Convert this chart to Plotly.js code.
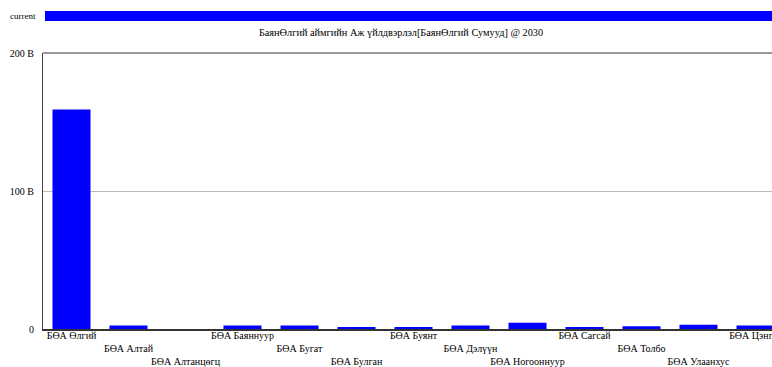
<!DOCTYPE html>
<html>
<head>
<meta charset="utf-8">
<script src="https://cdn.plot.ly/plotly-3.0.1.min.js"></script>
<style>
html,body{margin:0;padding:0;overflow:hidden;background:#fff;}
#chart{width:800px;height:367px;}
</style>
</head>
<body>
<div id="chart"></div>
<script>
const categories = ["БӨА Өлгий","БӨА Алтай","БӨА Алтанцөгц","БӨА Баяннуур","БӨА Бугат","БӨА Булган","БӨА Буянт","БӨА Дэлүүн","БӨА Ногооннуур","БӨА Сагсай","БӨА Толбо","БӨА Улаанхус","БӨА Цэнгэл"];
const valuesB = [159, 2.5, 0, 2.5, 2.5, 1.5, 1.5, 2.5, 4.5, 1.5, 2, 3, 2.5];
const yTickVals = [0, 100, 200];
const yTickText = ["0", "100 B", "200 B"];
const seriesName = "current";
const titleText = "БаянӨлгий аймгийн Аж үйлдвэрлэл[БаянӨлгий Сумууд] @ 2030";

const staggered = categories.map((c, i) => "<br>".repeat(i % 3) + c);
const FAM = "Liberation Serif, Times New Roman, serif";
const font = {family: FAM, size: 10.3, color: "#000"};

const data = [{
  type: "bar",
  x: categories,
  y: valuesB,
  name: seriesName,
  marker: {color: "#0000ff"},
  width: 0.667,
  hoverinfo: "x+y"
}];

const layout = {
  width: 800, height: 367,
  margin: {l: 43, r: 16, t: 53, b: 38},
  paper_bgcolor: "#fff", plot_bgcolor: "#fff",
  font: font,
  showlegend: false,
  bargap: 0.333,
  title: {text: titleText, font: font, xref: "container", x: 401/800, xanchor: "center", yref: "container", y: 1 - 32/367, yanchor: "middle"},
  xaxis: {
    type: "category",
    tickvals: categories, ticktext: staggered,
    tickangle: 0, ticks: "", showgrid: false,
    showline: true, linecolor: "#333", linewidth: 1.5,
    tickfont: {family: FAM, size: 10, color: "#000"}, automargin: false,
    ticklabelstandoff: -4
  },
  yaxis: {
    range: [0, 200], tickvals: yTickVals, ticktext: yTickText,
    showgrid: true, gridcolor: "#bbb", gridwidth: 1,
    showline: true, linecolor: "#444", linewidth: 1,
    zeroline: false, ticks: "", ticklabelstandoff: 6,
    tickfont: {family: FAM, size: 10, color: "#000"}, automargin: false
  },
  shapes: [
    {type: "rect", xref: "paper", yref: "paper", x0: 2/741, x1: 1.05, y0: 1 + (53-21)/276, y1: 1 + (53-11)/276, fillcolor: "#0000ff", line: {width: 0}},
    {type: "line", xref: "paper", yref: "paper", x0: 0, x1: 1, y0: 1, y1: 1, line: {color: "#777", width: 1.5}}
  ],
  annotations: [
    {xref: "paper", yref: "paper", x: -5/741, y: 1 + (53-16)/276, text: seriesName, showarrow: false, xanchor: "right", yanchor: "middle", font: {family: FAM, size: 9, color: "#000"}}
  ]
};

Plotly.newPlot("chart", data, layout, {displayModeBar: false, staticPlot: true});
</script>
</body>
</html>
